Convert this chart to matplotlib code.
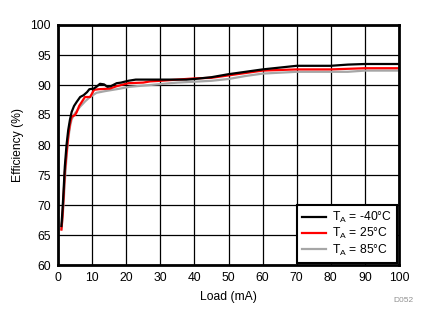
import matplotlib
matplotlib.use('Agg')
import matplotlib.pyplot as plt

plt.rcParams['font.family'] = ['Liberation Sans', 'DejaVu Sans']
plt.rcParams['mathtext.default'] = 'regular'

# Efficiency vs load at three ambient temperatures
load_m40 = [1.0, 1.3, 1.6, 2.0, 2.5, 3.0, 3.5, 4.0, 4.7, 5.5, 6.5, 7.5, 8.5, 9.2, 10.5, 11.5,
            12.3, 13.5, 14.5, 15.5, 17.2, 18.5, 20.6, 22.8, 25, 30, 37.7, 40, 45, 50, 55, 60,
            65, 70, 75, 80, 85, 90, 95, 100]
eff_m40 = [66.5, 69, 72, 76.4, 80, 82.5, 84.2, 85.5, 86.5, 87.2, 88, 88.3, 88.8, 89.3, 89.4, 89.8,
           90.2, 90.1, 89.7, 89.8, 90.3, 90.4, 90.7, 90.9, 90.9, 90.9, 90.9, 91.0, 91.3, 91.8, 92.2, 92.6,
           92.9, 93.2, 93.2, 93.2, 93.4, 93.5, 93.5, 93.5]

load_25 = [1.0, 1.3, 1.6, 2.0, 2.5, 3.0, 3.5, 4.0, 5.0, 5.5, 6.2, 7.0, 7.9, 9.4, 10.6, 12,
           15.2, 17.2, 20.6, 25, 27, 30, 35, 40, 45, 50, 55, 60, 65, 70, 80, 85, 90, 100]
eff_25 = [65.9, 68, 71, 75.5, 78.6, 81.5, 83.5, 84.7, 85, 85.5, 86.5, 87.2, 88, 88, 89.2, 89.3,
          89.4, 89.8, 90.3, 90.4, 90.6, 90.7, 90.9, 91.1, 91.2, 91.6, 92.0, 92.4, 92.5, 92.6, 92.6, 92.7, 92.8, 92.8]

load_85 = [1.0, 1.3, 1.6, 2.0, 2.5, 3.0, 3.5, 4.0, 5.0, 6.5, 8.0, 9.4, 11.3, 14, 17.2, 21,
           27, 35, 45, 50, 55, 60, 70, 85, 90, 100]
eff_85 = [66, 67.5, 70, 74, 78, 81, 83, 84.3, 85.3, 86.4, 87.3, 88, 88.7, 89, 89.3, 89.7,
          90.0, 90.4, 90.7, 91.0, 91.5, 91.9, 92.2, 92.2, 92.4, 92.4]

labels = [r'T$_{A}$ = -40°C', r'T$_{A}$ = 25°C', r'T$_{A}$ = 85°C']
colors = ['#000000', '#ff0000', '#a6a6a6']

fig = plt.figure(figsize=(4.32, 3.27), dpi=100)
ax = fig.add_axes([58 / 432, 1 - 265 / 327, 341 / 432, 240 / 327])

h85, = ax.plot(load_85, eff_85, color=colors[2], lw=1.6, label=labels[2])
h25, = ax.plot(load_25, eff_25, color=colors[1], lw=1.6, label=labels[1])
hm40, = ax.plot(load_m40, eff_m40, color=colors[0], lw=1.6, label=labels[0])

ax.set_xlim(0, 100)
ax.set_ylim(60, 100)
ax.set_xticks(range(0, 101, 10))
ax.set_yticks(range(60, 101, 5))
ax.grid(True, color='black', lw=0.9)
ax.set_axisbelow(True)
ax.tick_params(length=0, pad=5, labelsize=8.7)
for s in ax.spines.values():
    s.set_linewidth(2)

ax.set_xlabel('Load (mA)', fontsize=8.7, labelpad=5)
ax.set_ylabel('Efficiency (%)', fontsize=8.7, labelpad=5)

leg = ax.legend(handles=[hm40, h25, h85], loc='lower right', fontsize=8.7, fancybox=False,
                edgecolor='black', borderaxespad=0.15, handlelength=2.0, labelspacing=0.1,
                borderpad=0.45, handletextpad=0.45)
leg.get_frame().set_linewidth(1.5)
leg.get_frame().set_alpha(1)

fig.text(403 / 432, 1 - 300 / 327, 'D052', fontsize=6, color='#909090', ha='center', va='center')

fig.savefig('out.png', dpi=100)
